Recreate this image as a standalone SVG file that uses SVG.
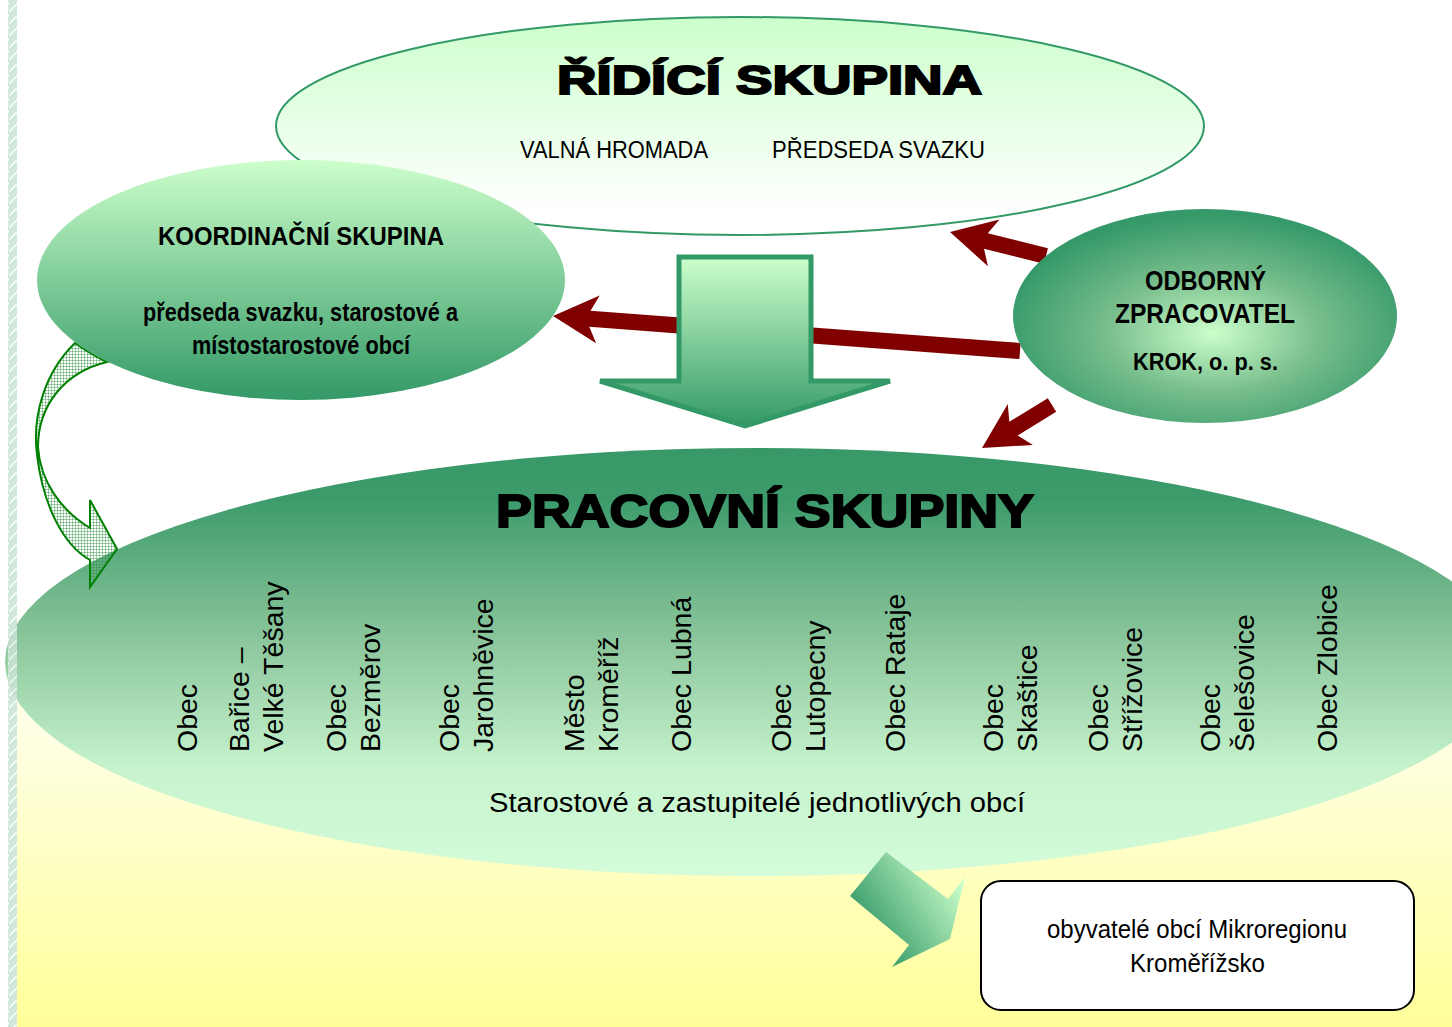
<svg xmlns="http://www.w3.org/2000/svg" width="1452" height="1027" viewBox="0 0 1452 1027">
<defs>
<style>
.t{font-family:"Liberation Sans",Arial,sans-serif;fill:#000}
.n{font-family:"Liberation Sans Narrow","Liberation Sans",Arial,sans-serif;fill:#000}
.b{font-weight:bold}
.h{font-family:"Liberation Sans",Arial,sans-serif;font-weight:bold;fill:#000;stroke:#000;stroke-width:2}
.v{font-family:"Liberation Sans",Arial,sans-serif;font-size:28.5px;fill:#000}
.red{fill:#800000}
</style>
<linearGradient id="gYel" x1="0" y1="600" x2="0" y2="1027" gradientUnits="userSpaceOnUse">
<stop offset="0" stop-color="#FFFFFF"/><stop offset="0.35" stop-color="#FFFFE0"/><stop offset="1" stop-color="#FFFF99"/>
</linearGradient>
<linearGradient id="gTop" x1="0" y1="0" x2="0" y2="1">
<stop offset="0" stop-color="#CCFFCC"/><stop offset="0.9" stop-color="#FFFFFF"/>
</linearGradient>
<linearGradient id="gKoord" x1="0" y1="0" x2="0" y2="1">
<stop offset="0" stop-color="#CCFFCC"/><stop offset="1" stop-color="#339966"/>
</linearGradient>
<linearGradient id="gBig" x1="0" y1="0" x2="0" y2="1">
<stop offset="0" stop-color="#389868"/><stop offset="0.12" stop-color="#3D9B6B"/><stop offset="0.45" stop-color="#8CC69C"/><stop offset="0.75" stop-color="#C6F3CD"/><stop offset="1" stop-color="#D4FCDA"/>
</linearGradient>
<radialGradient id="gOdb" cx="0.52" cy="0.58" r="0.55">
<stop offset="0" stop-color="#CCFFCC"/><stop offset="0.5" stop-color="#78BE8C"/><stop offset="1" stop-color="#36996A"/>
</radialGradient>
<linearGradient id="gDown" x1="0" y1="0" x2="0" y2="1">
<stop offset="0" stop-color="#CCFFCC"/><stop offset="1" stop-color="#339966"/>
</linearGradient>
<linearGradient id="gBA" x1="960" y1="878" x2="868" y2="940" gradientUnits="userSpaceOnUse">
<stop offset="0" stop-color="#CCFFCC"/><stop offset="1" stop-color="#339966"/>
</linearGradient>
<pattern id="hatch" width="3" height="3" patternUnits="userSpaceOnUse">
<path d="M0 0.5H3M0.5 0V3" stroke="#2e8b3e" stroke-width="0.8" stroke-opacity="0.55"/>
</pattern>
<pattern id="stripe" width="9" height="12" patternUnits="userSpaceOnUse">
<rect width="9" height="12" fill="#c8e3d5"/>
<path d="M0 12L9 3" stroke="#ffffff" stroke-width="1.3"/>
</pattern>
</defs>

<g id="background">
<rect width="1452" height="1027" fill="#ffffff"/>
<rect x="17" y="600" width="1435" height="427" fill="url(#gYel)"/>
</g>

<g id="ridici-skupina">
<ellipse cx="740" cy="126" rx="464" ry="109" fill="url(#gTop)" stroke="#339966" stroke-width="2"/>
<text class="h" x="557" y="94" font-size="40" textLength="425" lengthAdjust="spacingAndGlyphs">ŘÍDÍCÍ SKUPINA</text>
<text class="n" x="520" y="158" font-size="24.5" textLength="188" lengthAdjust="spacingAndGlyphs">VALNÁ HROMADA</text>
<text class="n" x="772" y="158" font-size="24.5" textLength="213" lengthAdjust="spacingAndGlyphs">PŘEDSEDA SVAZKU</text>
</g>

<g id="pracovni-skupiny">
<ellipse cx="756" cy="662" rx="751" ry="214" fill="url(#gBig)"/>
<text class="h" x="496" y="527" font-size="47" textLength="538" lengthAdjust="spacingAndGlyphs">PRACOVNÍ SKUPINY</text>
<text class="v" transform="translate(197,752) rotate(-90)">Obec</text>
<text class="v" transform="translate(249,752) rotate(-90)">Bařice –</text>
<text class="v" transform="translate(283,752) rotate(-90)">Velké Těšany</text>
<text class="v" transform="translate(346,752) rotate(-90)">Obec</text>
<text class="v" transform="translate(380,752) rotate(-90)">Bezměrov</text>
<text class="v" transform="translate(459,752) rotate(-90)">Obec</text>
<text class="v" transform="translate(493,752) rotate(-90)">Jarohněvice</text>
<text class="v" transform="translate(584,752) rotate(-90)">Město</text>
<text class="v" transform="translate(618,752) rotate(-90)">Kroměříž</text>
<text class="v" transform="translate(691,752) rotate(-90)">Obec Lubná</text>
<text class="v" transform="translate(791,752) rotate(-90)">Obec</text>
<text class="v" transform="translate(825,752) rotate(-90)">Lutopecny</text>
<text class="v" transform="translate(905,752) rotate(-90)">Obec Rataje</text>
<text class="v" transform="translate(1003,752) rotate(-90)">Obec</text>
<text class="v" transform="translate(1037,752) rotate(-90)">Skaštice</text>
<text class="v" transform="translate(1108,752) rotate(-90)">Obec</text>
<text class="v" transform="translate(1142,752) rotate(-90)">Střížovice</text>
<text class="v" transform="translate(1220,752) rotate(-90)">Obec</text>
<text class="v" transform="translate(1254,752) rotate(-90)">Šelešovice</text>
<text class="v" transform="translate(1337,752) rotate(-90)">Obec Zlobice</text>
<text class="t" x="489" y="812" font-size="27" textLength="536" lengthAdjust="spacingAndGlyphs">Starostové a zastupitelé jednotlivých obcí</text>
</g>

<g id="connectors">
<polygon class="red" points="950,232 999.5,219.6 987.8,233.2 1047.9,248.2 1044.1,263.8 984,248.7 987.9,266.2"/>
<polygon class="red" points="553,316 599.7,295.4 590.5,310.8 1020.6,343 1019.4,359 589.3,326.8 596.1,343.3"/>
<polygon class="red" points="982,448 1007.8,404 1009.3,421.8 1047.8,398.2 1056.2,411.8 1017.7,435.4 1032.9,444.9"/>
<polygon points="679,257 811,257 811,381 890,381 745,426 600,381 679,381" fill="url(#gDown)" stroke="#339966" stroke-width="5" stroke-linejoin="miter"/>
<path d="M107,362 A264 120 0 0 1 75,343 C45,372 32,415 37,455 C43,505 63,545 90,560 L90,587 L117,549 L90,500 L90,528 C60,510 40,480 38,447 C38,405 65,372 107,362 Z" fill="url(#hatch)" stroke="#008000" stroke-width="2" stroke-linejoin="miter"/>
<polygon points="886,852 948,899 965,877 950,939 892,967 909,945 850,896" fill="url(#gBA)"/>
</g>

<g id="koordinacni-skupina">
<ellipse cx="301" cy="280" rx="264" ry="120" fill="url(#gKoord)"/>
<text class="n b" x="158" y="245" font-size="26" textLength="286" lengthAdjust="spacingAndGlyphs">KOORDINAČNÍ SKUPINA</text>
<text class="n b" x="143" y="321" font-size="25" textLength="315" lengthAdjust="spacingAndGlyphs">předseda svazku, starostové a</text>
<text class="n b" x="192" y="354" font-size="25" textLength="218" lengthAdjust="spacingAndGlyphs">místostarostové obcí</text>
</g>

<g id="odborny-zpracovatel">
<ellipse cx="1205" cy="316" rx="192" ry="107" fill="url(#gOdb)"/>
<text class="n b" x="1145" y="290" font-size="28" textLength="121" lengthAdjust="spacingAndGlyphs">ODBORNÝ</text>
<text class="n b" x="1115" y="323" font-size="28" textLength="180" lengthAdjust="spacingAndGlyphs">ZPRACOVATEL</text>
<text class="n b" x="1133" y="370" font-size="24" textLength="145" lengthAdjust="spacingAndGlyphs">KROK, o. p. s.</text>
</g>

<g id="obyvatele">
<rect x="981" y="881" width="433" height="129" rx="20" ry="20" fill="#ffffff" stroke="#000000" stroke-width="2"/>
<text class="n" x="1047" y="938" font-size="26" textLength="300" lengthAdjust="spacingAndGlyphs">obyvatelé obcí Mikroregionu</text>
<text class="n" x="1130" y="972" font-size="26" textLength="135" lengthAdjust="spacingAndGlyphs">Kroměřížsko</text>
</g>

<g id="left-border">
<rect x="8" y="0" width="9" height="1027" fill="url(#stripe)" opacity="0.85"/>
</g>
</svg>
